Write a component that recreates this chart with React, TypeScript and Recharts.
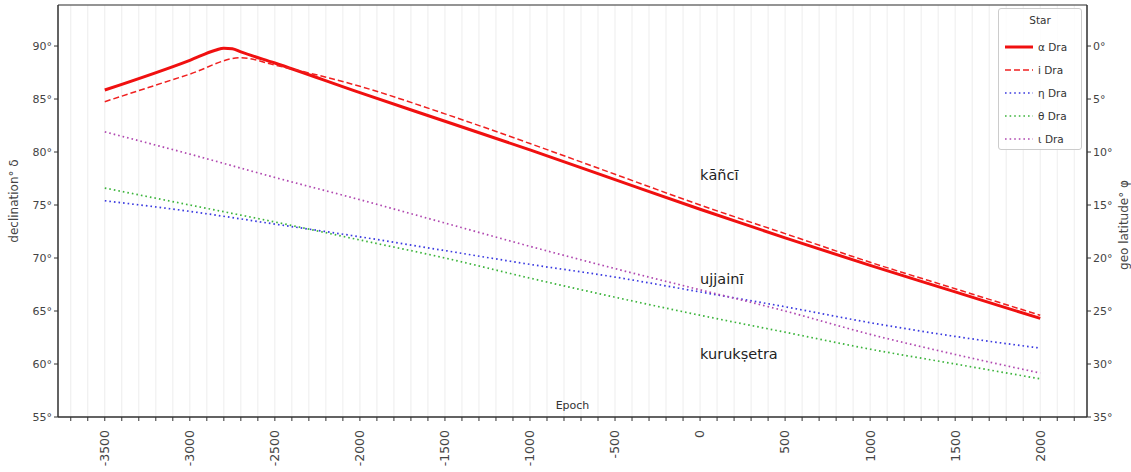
import React from 'react';
import { LineChart, Line, XAxis, YAxis, CartesianGrid, ReferenceArea, ReferenceDot, Legend } from 'recharts';

const years = [-3500, -3000, -2850, -2800, -2750, -2700, -2500, -2000, -1500, -1000, -500, 0, 500, 1000, 1500, 2000];
const alphaDra = [85.85, 88.65, 89.6, 89.8, 89.75, 89.45, 88.4, 85.6, 82.9, 80.2, 77.4, 74.6, 71.9, 69.3, 66.8, 64.3];
const iDra = [84.75, 87.35, null, null, null, 88.9, 88.2, 86.2, 83.6, 80.8, 77.9, 75.0, 72.3, 69.6, 67.1, 64.6];
const etaDra = [75.4, 74.4, null, null, null, null, 73.2, 72.0, 70.7, 69.4, 68.2, 66.8, 65.4, 63.9, 62.6, 61.5];
const thetaDra = [76.6, 75.0, null, null, null, null, 73.4, 71.7, 70.0, 68.1, 66.3, 64.6, 63.0, 61.4, 60.0, 58.6];
const iotaDra = [81.9, 79.8, null, null, null, null, 77.6, 75.5, 73.3, 71.1, 69.0, 67.0, 65.0, 62.8, 60.9, 59.15];

const seriesNames = ['α Dra', 'i Dra', 'η Dra', 'θ Dra', 'ι Dra'];
const xTicks: number[] = [];
for (let v = -3700; v <= 2200; v += 100) xTicks.push(v);
const yTicks = [55, 60, 65, 70, 75, 80, 85, 90];
const annotations = [
  { x: 0, y: 77.8, text: 'kāñcī' },
  { x: 0, y: 68.0, text: 'ujjainī' },
  { x: 0, y: 61.0, text: 'kurukṣetra' },
];

const data = years.map((yr, i) => ({
  year: yr,
  a: alphaDra[i],
  i: iDra[i],
  eta: etaDra[i],
  theta: thetaDra[i],
  iota: iotaDra[i],
}));

const FONT = 'DejaVu Sans, sans-serif';

const styles = [
  { key: 'a', color: '#f01010', width: 3, dash: undefined as string | undefined },
  { key: 'i', color: '#f02020', width: 1.5, dash: '6 3' },
  { key: 'eta', color: '#3a3ae0', width: 1.7, dash: '1.6 3' },
  { key: 'theta', color: '#3cb43c', width: 1.7, dash: '1.6 3' },
  { key: 'iota', color: '#b048b0', width: 1.7, dash: '1.6 3' },
];

const XTick = (props: any) => {
  const { x, y, payload } = props;
  if (payload.value % 500 !== 0) return null;
  const yy = y + 7;
  return (
    <text x={x} y={yy} transform={`rotate(-90 ${x} ${yy})`} textAnchor="end" dy="0.35em"
      fontSize={12.5} fontFamily={FONT} fill="#444">{payload.value}</text>
  );
};

const LegendBox = () => (
  <div style={{ width: 84, height: 142, boxSizing: 'border-box', border: '1px solid #ccc', borderRadius: 3,
    background: 'rgba(255,255,255,0.85)', fontFamily: FONT, fontSize: 10.5, color: '#333', position: 'relative' }}>
    <div style={{ position: 'absolute', top: 5, left: 0, width: '100%', textAlign: 'center' }}>Star</div>
    {styles.map((s, idx) => (
      <div key={s.key} style={{ position: 'absolute', top: 31 + idx * 23, left: 6, display: 'flex', alignItems: 'center', height: 14 }}>
        <svg width={28} height={8}>
          <line x1={0} y1={4} x2={28} y2={4} stroke={s.color} strokeWidth={s.width} strokeDasharray={s.dash} />
        </svg>
        <span style={{ marginLeft: 5 }}>{seriesNames[idx]}</span>
      </div>
    ))}
  </div>
);

export default function App() {
  return (
    <div style={{ position: 'absolute', left: 0, top: 0, width: 1131, height: 472, background: '#fff' }}>
      <LineChart width={1131} height={472} data={data} margin={{ top: 5, right: 0, left: 0, bottom: 0 }}>
        <CartesianGrid stroke="#e8e8e8" strokeWidth={0.8} />
        <XAxis dataKey="year" type="number" domain={[-3775, 2275]} allowDataOverflow ticks={xTicks}
          interval={0} height={55} tick={<XTick />} tickSize={4} axisLine={{ stroke: '#333' }} tickLine={{ stroke: '#333' }} />
        <YAxis yAxisId="left" type="number" domain={[55, 93.87]} allowDataOverflow ticks={yTicks} width={58}
          tickFormatter={(v: number) => `${v}°`} tick={{ fontSize: 11, fontFamily: FONT, fill: '#444' }}
          tickSize={4} axisLine={{ stroke: '#333' }} tickLine={{ stroke: '#333' }}
          label={{ value: 'declination° δ', angle: -90, position: 'insideLeft', dx: 9, dy: -10, style: { fontSize: 12, fontFamily: FONT, fill: '#444', textAnchor: 'middle' } }} />
        <YAxis yAxisId="right" orientation="right" type="number" domain={[55, 93.87]} allowDataOverflow ticks={yTicks} width={44}
          tickFormatter={(v: number) => `${Math.round(90 - v)}°`} tick={{ fontSize: 11, fontFamily: FONT, fill: '#444' }}
          tickSize={4} axisLine={{ stroke: '#333' }} tickLine={{ stroke: '#333' }}
          label={{ value: 'geo latitude° φ', angle: -90, position: 'insideRight', dx: -2, dy: 14, style: { fontSize: 12, fontFamily: FONT, fill: '#444', textAnchor: 'middle' } }} />
        <ReferenceArea yAxisId="left" x1={-3775} x2={2275} y1={55} y2={93.87} fill="none" stroke="#333" strokeWidth={1} ifOverflow="visible" />
        <Legend layout="horizontal" verticalAlign="middle" align="center" content={<LegendBox />}
          wrapperStyle={{ position: 'absolute', left: 998, top: 8, width: 84, height: 142 }} />
        {styles.map((s) => (
          <Line key={s.key} yAxisId="left" dataKey={s.key} type="monotone" stroke={s.color} strokeWidth={s.width}
            strokeDasharray={s.dash} dot={false} connectNulls isAnimationActive={false} />
        ))}
        <Line yAxisId="right" dataKey="a" stroke="none" dot={false} legendType="none" isAnimationActive={false} />
        {annotations.map((a) => (
          <ReferenceDot key={a.text} yAxisId="left" x={a.x} y={a.y} r={0} fill="none" stroke="none"
            label={{ value: a.text, position: 'right', offset: 0, style: { fontSize: 14.5, fontFamily: FONT, fill: '#222', textAnchor: 'start' } }} />
        ))}
        <ReferenceDot yAxisId="left" x={-750} y={56.1} r={0} fill="none" stroke="none"
          label={{ value: 'Epoch', position: 'center', style: { fontSize: 11, fontFamily: FONT, fill: '#333' } }} />
      </LineChart>
    </div>
  );
}
